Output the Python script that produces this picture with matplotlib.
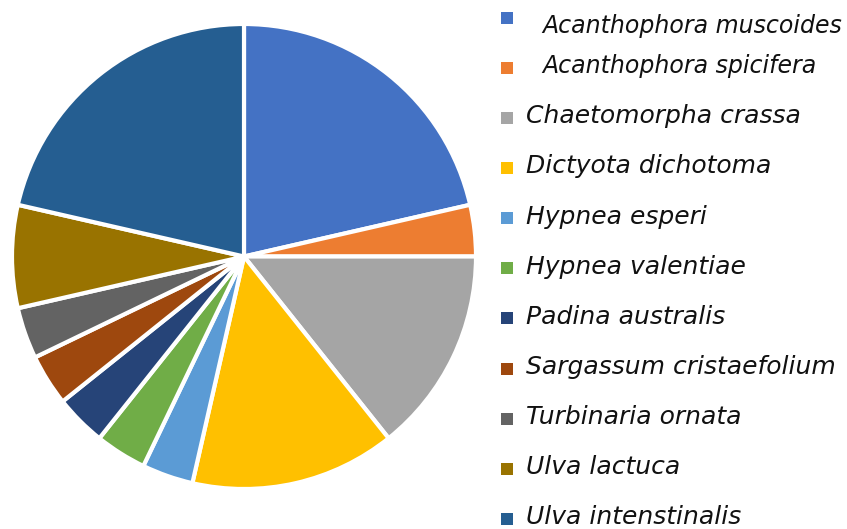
import matplotlib
matplotlib.use("Agg")
import matplotlib.pyplot as plt
from matplotlib.patches import Rectangle

species = ["Acanthophora muscoides", "Acanthophora spicifera", "Chaetomorpha crassa",
           "Dictyota dichotoma", "Hypnea esperi", "Hypnea valentiae", "Padina australis",
           "Sargassum cristaefolium", "Turbinaria ornata", "Ulva lactuca", "Ulva intenstinalis"]
counts = [6, 1, 4, 4, 1, 1, 1, 1, 1, 2, 6]
colors = ["#4472C4", "#ED7D31", "#A5A5A5", "#FFC000", "#5B9BD5", "#70AD47",
          "#264478", "#9E480E", "#636363", "#997300", "#255E91"]

W, H = 847, 529
fig = plt.figure(figsize=(W / 100, H / 100), dpi=100)
ax = fig.add_axes([12 / W, 40 / H, 464 / W, 465 / H])
ax.pie(counts, colors=colors, startangle=90, counterclock=False,
       wedgeprops=dict(edgecolor="white", linewidth=3))
ax.set_xlim(-1.0, 1.0)
ax.set_ylim(-1.0, 1.0)
ax.set_aspect("auto")
ax.axis("off")

# legend layout (pixel positions)
text_x = [542, 542] + [526] * 9
base_off = [16, 5.5] + [5.5] * 9
fsz = [17.0, 17.0] + [18] * 9
m0, mdy, msz = 17.5, 50.15, 12
for i, (name, c) in enumerate(zip(species, colors)):
    mc = m0 + i * mdy
    fig.patches.append(Rectangle((501 / W, 1 - (mc + msz / 2) / H), msz / W, msz / H,
                                 transform=fig.transFigure, facecolor=c, edgecolor="none"))
    fig.text(text_x[i] / W, 1 - (mc + base_off[i]) / H, name, fontsize=fsz[i], style="italic",
             family="DejaVu Sans", va="baseline", ha="left", color="#111111")

fig.savefig("out.png", dpi=100)
